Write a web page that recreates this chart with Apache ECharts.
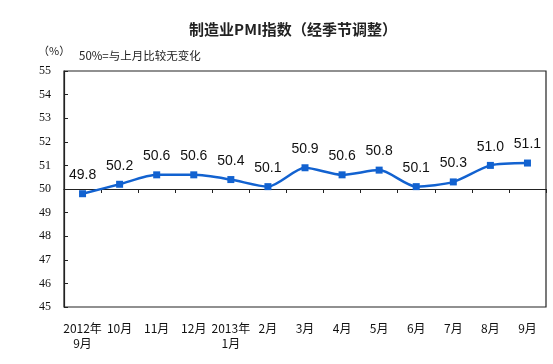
<!DOCTYPE html>
<html><head><meta charset="utf-8">
<script src="https://cdn.jsdelivr.net/npm/echarts@6/dist/echarts.min.js"></script>
<style>html,body{margin:0;padding:0;background:#fff}#c{width:553px;height:364px}</style>
</head><body><div id="c"></div>
<script>
const categories = ['2012年\n9月','10月','11月','12月','2013年\n1月','2月','3月','4月','5月','6月','7月','8月','9月'];
const pmiValues = [49.8, 50.2, 50.6, 50.6, 50.4, 50.1, 50.9, 50.6, 50.8, 50.1, 50.3, 51.0, 51.1];
const yTicks = [45, 46, 47, 48, 49, 50, 51, 52, 53, 54, 55];
const baseline = 50;
const titleText = '制造业PMI指数（经季节调整）';
const unitText = '（%）';
const noteText = '50%=与上月比较无变化';

const chart = echarts.init(document.getElementById('c'));
const blue = '#1262d0';
chart.setOption({
  animation: false,
  backgroundColor: '#fff',
  title: [
    {text: titleText, left: 288, top: 17, textAlign: 'center',
     textStyle: {fontFamily: 'Noto Sans CJK SC', fontSize: 15, fontWeight: 'bold', color: '#222'}},
    {text: unitText, left: 33, top: 40,
     textStyle: {fontFamily: 'Noto Sans CJK SC', fontSize: 11, fontWeight: 'normal', color: '#222'}},
    {text: noteText, left: 74, top: 45,
     textStyle: {fontFamily: 'Noto Sans CJK SC', fontSize: 11.5, fontWeight: 'normal', color: '#222'}}
  ],
  grid: {left: 64, right: 7, top: 71, bottom: 57, show: true, borderColor: '#222', borderWidth: 1.2},
  xAxis: [
    {type: 'category', data: categories, boundaryGap: true, position: 'bottom',
     axisLine: {show: false}, axisTick: {show: false},
     axisLabel: {interval: 0, margin: 14, lineHeight: 15, fontFamily: 'Noto Sans CJK SC', fontSize: 12, color: '#111'}},
    {type: 'category', data: categories, boundaryGap: true, position: 'bottom', offset: -118,
     axisLine: {show: true, lineStyle: {color: '#222', width: 1.2}},
     axisTick: {show: true, length: 4, alignWithLabel: false, interval: 0, lineStyle: {color: '#222'}},
     axisLabel: {show: false}}
  ],
  yAxis: {
    type: 'value', min: 45, max: 55, interval: 1,
    axisLine: {show: true, lineStyle: {color: '#222', width: 1.2}},
    axisTick: {show: true, inside: true, length: 4, lineStyle: {color: '#222'}},
    splitLine: {show: false},
    axisLabel: {margin: 13, fontFamily: 'Liberation Serif', fontSize: 12, color: '#111',
      formatter: v => yTicks.includes(v) ? String(v) : ''}
  },
  series: [{
    type: 'line', data: pmiValues, xAxisIndex: 0, smooth: 0.25,
    symbol: 'rect', symbolSize: 7,
    lineStyle: {color: blue, width: 2.5},
    itemStyle: {color: blue},
    label: {show: true, position: 'top', distance: 8, fontFamily: 'Liberation Sans', fontSize: 14, color: '#111',
      formatter: p => p.value.toFixed(1)}
  }]
});
</script></body></html>
